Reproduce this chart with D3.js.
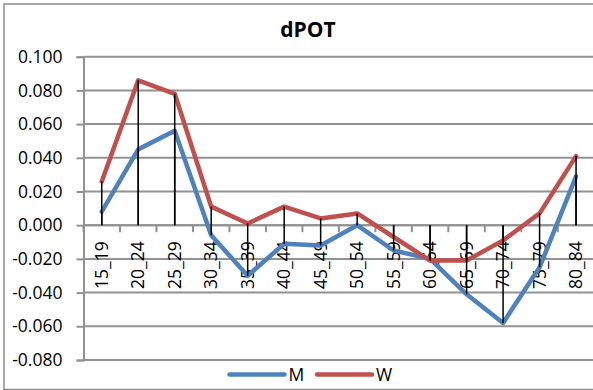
<!DOCTYPE html>
<html><head><meta charset="utf-8">
<script src="https://cdn.jsdelivr.net/npm/d3@7"></script>
<style>body{margin:0;background:#fff}svg{display:block}</style>
</head><body>
<script>
const categories = ["15_19","20_24","25_29","30_34","35_39","40_44","45_49","50_54","55_59","60_64","65_69","70_74","75_79","80_84"];
const seriesM = [0.008,0.045,0.056,-0.006,-0.030,-0.011,-0.012,0.000,-0.015,-0.020,-0.041,-0.058,-0.025,0.029];
const seriesW = [0.026,0.086,0.078,0.011,0.001,0.011,0.004,0.007,-0.007,-0.021,-0.021,-0.009,0.007,0.041];
const yTicks = [0.100,0.080,0.060,0.040,0.020,0.000,-0.020,-0.040,-0.060,-0.080];
const seriesNames = ["M","W"];
const colors = ["#4F81BD","#C0504D"];

(function(){
const W = 593, H = 390;
const FONT = "'Open Sans', 'Liberation Sans', sans-serif";
const svg = d3.select("body").append("svg").attr("width", W).attr("height", H);

// chart border
svg.append("rect").attr("x",4).attr("y",4).attr("width",W+10).attr("height",H-4.5)
  .attr("fill","#fff").attr("stroke","#8c8c8c").attr("stroke-width",1.5);

const pLeft = 83.5, pRight = 594.3, pTop = 56.7, pBottom = 360;
const x = d3.scaleBand().domain(categories).range([pLeft, pRight]);
const y = d3.scaleLinear().domain([-0.08, 0.10]).range([pBottom, pTop]);

// gridlines
svg.append("g").selectAll("line").data(yTicks).join("line")
  .attr("x1", pLeft).attr("x2", W+5)
  .attr("y1", d=>y(d)).attr("y2", d=>y(d))
  .attr("stroke","#929292").attr("stroke-width",2);

// y axis
const fmt = d3.format(".3f");
const yAxis = d3.axisLeft(y).tickValues(yTicks).tickSize(7).tickPadding(14)
  .tickFormat(d => d < 0 ? "-" + fmt(-d) : fmt(d));
const gy = svg.append("g").attr("transform",`translate(${pLeft},0)`).call(yAxis);
gy.select(".domain").attr("stroke","#929292").attr("stroke-width",2);
gy.selectAll(".tick line").attr("stroke","#929292").attr("stroke-width",2);
gy.selectAll("text").attr("font-family",FONT).attr("font-size","17.5px").attr("fill","#000");

// x axis at zero
const y0 = y(0);
svg.append("line").attr("x1",pLeft).attr("x2",W+5).attr("y1",y0).attr("y2",y0)
  .attr("stroke","#929292").attr("stroke-width",2);
const bounds = categories.map(c => x(c)).concat([x(categories[categories.length-1]) + x.bandwidth()]);
svg.append("g").selectAll("line").data(bounds).join("line")
  .attr("x1",d=>d).attr("x2",d=>d).attr("y1",y0).attr("y2",y0+7)
  .attr("stroke","#929292").attr("stroke-width",2);

// category labels
svg.append("g").selectAll("text").data(categories).join("text")
  .attr("transform", d => `translate(${x(d)+x.bandwidth()/2},${y0+16}) rotate(-90)`)
  .attr("text-anchor","end").attr("dy","0.35em")
  .attr("font-family",FONT).attr("font-size","17.5px").attr("fill","#000")
  .text(d=>d);

// series lines
const series = [seriesM, seriesW];
const line = d3.line().x((d,i)=>x(categories[i])+x.bandwidth()/2).y(d=>y(d));
series.forEach((s,k) => {
  svg.append("path").datum(s).attr("d", line).attr("fill","none")
    .attr("stroke", colors[k]).attr("stroke-width",4.5)
    .attr("stroke-linejoin","round").attr("stroke-linecap","round");
});

// drop lines
series.forEach(s => {
  svg.append("g").selectAll("line").data(s).join("line")
    .attr("x1",(d,i)=>x(categories[i])+x.bandwidth()/2)
    .attr("x2",(d,i)=>x(categories[i])+x.bandwidth()/2)
    .attr("y1",d=>y(d)).attr("y2",y0)
    .attr("stroke","#000").attr("stroke-width",1.5);
});

// title
svg.append("text").attr("x",308).attr("y",37).attr("text-anchor","middle")
  .attr("font-family",FONT).attr("font-weight","bold").attr("font-size","21px").text("dPOT");

// legend
const legX = [229.5, 317];
seriesNames.forEach((n,k) => {
  const g = svg.append("g");
  g.append("line").attr("x1",legX[k]).attr("x2",legX[k]+55).attr("y1",374.5).attr("y2",374.5)
    .attr("stroke",colors[k]).attr("stroke-width",4.5).attr("stroke-linecap","round");
  g.append("text").attr("x",legX[k]+59).attr("y",374.5).attr("dy","0.35em")
    .attr("font-family",FONT).attr("font-size","17.5px").text(n);
});
})();
</script>
</body></html>
